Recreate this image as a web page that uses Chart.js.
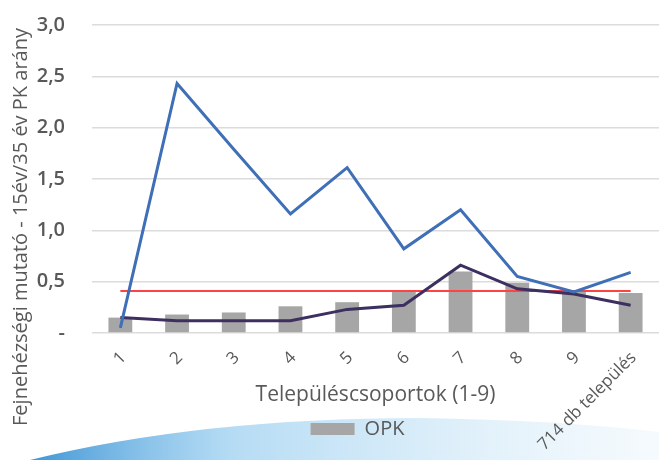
<!DOCTYPE html>
<html>
<head>
<meta charset="utf-8">
<script src="https://cdn.jsdelivr.net/npm/chart.js@4"></script>
<style>
  html, body { margin: 0; padding: 0; background: #fff; }
  #wrap { width: 659px; height: 460px; }
</style>
</head>
<body>
<div id="wrap"><canvas id="myChart" width="659" height="460"></canvas></div>
<script>
let categories = ["1", "2", "3", "4", "5", "6", "7", "8", "9", "714 db település"];
let opkValues = [0.15, 0.18, 0.20, 0.26, 0.30, 0.41, 0.60, 0.49, 0.41, 0.39];
let blueValues = [0.05, 2.43, 1.79, 1.16, 1.61, 0.82, 1.20, 0.55, 0.40, 0.59];
let purpleValues = [0.15, 0.12, 0.12, 0.12, 0.23, 0.27, 0.66, 0.43, 0.38, 0.27];
let redValues = [0.41, 0.41, 0.41, 0.41, 0.41, 0.41, 0.41, 0.41, 0.41, 0.41];
let yTicks = [0, 0.5, 1, 1.5, 2, 2.5, 3];

let xTitle = "Településcsoportok (1-9)";
let yTitle = "Fejnehézségi mutató - 15év/35 év PK arány";
let textColor = "#595959";

// white page + the light blue swoosh from the slide
const background = {
  id: 'background',
  beforeDraw(chart) {
    const c = chart.ctx;
    c.save();
    c.fillStyle = '#fff';
    c.fillRect(0, 0, chart.width, chart.height);
    let g = c.createLinearGradient(0, 0, 659, 0);
    g.addColorStop(0, 'rgba(30,130,205,0.95)');
    g.addColorStop(0.35, 'rgba(120,190,235,0.55)');
    g.addColorStop(1, 'rgba(215,236,248,0.25)');
    c.beginPath();
    c.moveTo(30, 460);
    c.quadraticCurveTo(200, 418, 420, 418);
    c.quadraticCurveTo(560, 420, 659, 432);
    c.lineTo(659, 460);
    c.closePath();
    c.fillStyle = g;
    c.fill();
    c.restore();
  }
};

// x labels: rotated 45deg, end of the text at the tick
const xLabels = {
  id: 'xLabels',
  afterDraw(chart) {
    const c = chart.ctx;
    const sx = chart.scales.x;
    c.save();
    c.font = '17px "Open Sans"';
    c.fillStyle = textColor;
    c.textAlign = 'right';
    c.textBaseline = 'middle';
    categories.forEach((lab, i) => {
      c.save();
      c.translate(sx.getPixelForTick(i) + 3, chart.chartArea.bottom + 22);
      c.rotate(-Math.PI / 4);
      c.fillText(lab, 0, 0);
      c.restore();
    });
    c.restore();
  }
};

// y title is longer than the axis, so draw it centred on the page
const yTitlePlugin = {
  id: 'yTitlePlugin',
  afterDraw(chart) {
    const c = chart.ctx;
    c.save();
    c.translate(21, 227);
    c.rotate(-Math.PI / 2);
    c.font = '20px "Open Sans"';
    c.fillStyle = textColor;
    c.textAlign = 'center';
    c.textBaseline = 'middle';
    c.fillText(yTitle, 0, 0);
    c.restore();
  }
};

const legendShift = {
  id: 'legendShift',
  afterLayout(chart) {
    chart.legend.left += 25;
    chart.legend.right += 25;
  }
};

let ctx = document.getElementById('myChart').getContext('2d');

const myChart = new Chart(ctx, {
  data: {
    labels: categories,
    datasets: [
      {
        type: 'line',
        label: 'Fejnehézségi mutató',
        data: blueValues,
        borderColor: '#3f6fb6',
        borderWidth: 3,
        pointRadius: 0,
        tension: 0,
        order: 1
      },
      {
        type: 'line',
        label: '15év/35 év PK arány',
        data: purpleValues,
        borderColor: '#3d2f60',
        borderWidth: 3,
        pointRadius: 0,
        tension: 0,
        order: 2
      },
      {
        type: 'line',
        label: 'Átlag',
        data: redValues,
        borderColor: '#ff4242',
        borderWidth: 2,
        pointRadius: 0,
        tension: 0,
        order: 3
      },
      {
        type: 'bar',
        label: 'OPK',
        data: opkValues,
        backgroundColor: '#a6a6a6',
        categoryPercentage: 1,
        barPercentage: 0.42,
        order: 4
      }
    ]
  },
  options: {
    responsive: false,
    animation: false,
    layout: { padding: { top: 25, right: -6, bottom: 11, left: 0 } },
    plugins: {
      tooltip: { enabled: false },
      legend: {
        position: 'bottom',
        labels: {
          filter: (item) => item.text === 'OPK',
          boxWidth: 44,
          boxHeight: 12,
          padding: 11,
          color: textColor,
          font: { family: 'Open Sans', size: 20 }
        }
      }
    },
    scales: {
      x: {
        offset: true,
        grid: { display: false },
        border: { display: false },
        ticks: { display: false },
        title: {
          display: true,
          text: xTitle,
          color: textColor,
          padding: 0,
          font: { family: 'Open Sans', size: 21 }
        },
        afterFit: (s) => { s.height = 75; }
      },
      y: {
        min: 0,
        max: 3,
        afterBuildTicks: (s) => { s.ticks = yTicks.map(v => ({ value: v })); },
        grid: { color: '#dcdcdc', lineWidth: 1.5, drawTicks: false },
        border: { display: false },
        ticks: {
          padding: 27,
          color: textColor,
          font: { family: 'Open Sans', size: 20, weight: '600' },
          callback: (v) => v === 0 ? '-' : v.toFixed(1).replace('.', ',')
        },
        afterFit: (s) => {
          s.width = 92;
          s.paddingTop = 0;
          s.paddingBottom = 0;
        }
      }
    }
  },
  plugins: [background, xLabels, yTitlePlugin, legendShift]
});
</script>
</body>
</html>
